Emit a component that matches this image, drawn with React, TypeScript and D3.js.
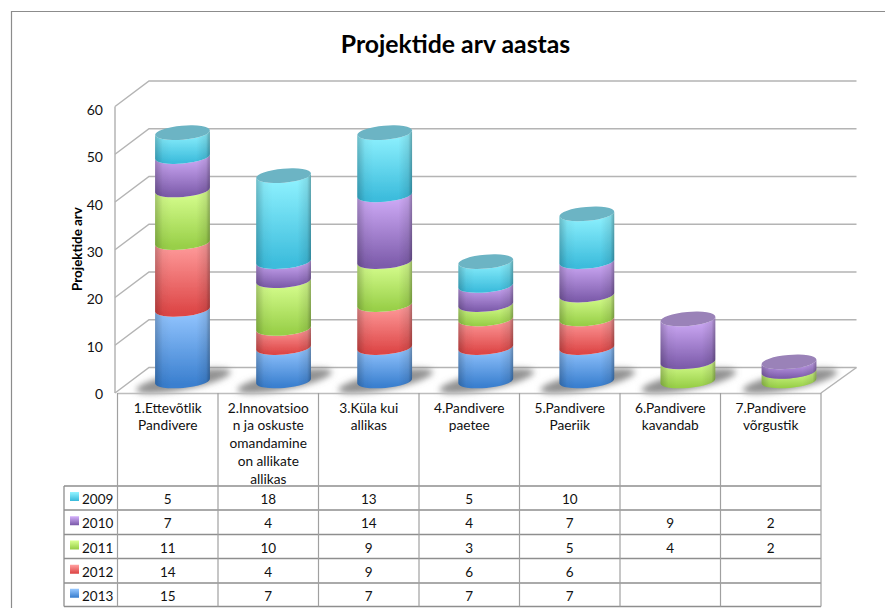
import React from "react";
import * as d3 from "d3";

const categories = [
  ["1.Ettevõtlik", "Pandivere"],
  ["2.Innovatsioo", "n ja oskuste", "omandamine", "on allikate", "allikas"],
  ["3.Küla kui", "allikas"],
  ["4.Pandivere", "paetee"],
  ["5.Pandivere", "Paeriik"],
  ["6.Pandivere", "kavandab"],
  ["7.Pandivere", "võrgustik"],
];
const v2009 = [5, 18, 13, 5, 10, null, null];
const v2010 = [7, 4, 14, 4, 7, 9, 2];
const v2011 = [11, 10, 9, 3, 5, 4, 2];
const v2012 = [14, 4, 9, 6, 6, null, null];
const v2013 = [15, 7, 7, 7, 7, null, null];
const yTicks = [0, 10, 20, 30, 40, 50, 60];

const seriesNames = ["2009", "2010", "2011", "2012", "2013"];
const seriesValues = [v2009, v2010, v2011, v2012, v2013];
const stackOrder = ["2013", "2012", "2011", "2010", "2009"];
const seriesLight = ["#8ff2ff", "#d0acf8", "#d8ff90", "#ff9c9c", "#94c6ff"];
const seriesDark = ["#3cbcdc", "#7d5cab", "#98cf48", "#dd4646", "#3a7fcf"];
const seriesCap = ["#6cb4c4", "#9a82b8", "#a9c77a", "#d08080", "#7da4d0"];

const FONT = "Lato, 'Open Sans', sans-serif";
const TEXT = "#111";

export default function App() {
  const left = 117.5, right = 821;
  const floorFront = 393, top = 106.5;
  const dx = 34, dy = 25.5;
  const idx = categories.map((_, i) => i);
  const x = d3.scaleBand<number>().domain(idx).range([left, right]);
  const barX = d3.scalePoint<number>().domain(idx).range([182.5, 789]);
  const y = d3.scaleLinear().domain([0, 60]).range([floorFront, top]);
  const yLabel = d3.scaleLinear().domain([0, 60]).range([399, 115]);
  const rowEdges = [393, 486, 510, 534.5, 558.5, 583, 606.5];
  const legendLeft = 64;
  const barOffsetY = -12;
  const rx = 27.5, ry = 7, rot = -5;
  const cosT = Math.cos((rot * Math.PI) / 180), sinT = Math.sin((rot * Math.PI) / 180);

  const rows = categories.map((_, i) => {
    const o: Record<string, number> = {};
    seriesNames.forEach((n, s) => (o[n] = seriesValues[s][i] ?? 0));
    return o;
  });
  const stacked = d3.stack().keys(stackOrder)(rows as any);

  const segPath = (cx: number, y0: number, y1: number) => {
    const ax = cx - rx * cosT, ady = -rx * sinT;
    const bx = cx + rx * cosT, bdy = rx * sinT;
    return `M${ax},${y0 + ady}L${ax},${y1 + ady}A${rx},${ry} ${rot} 0 0 ${bx},${y1 + bdy}L${bx},${y0 + bdy}A${rx},${ry} ${rot} 0 1 ${ax},${y0 + ady}Z`;
  };

  return (
    <svg width={885} height={608} style={{ position: "absolute", left: 0, top: 0, display: "block", background: "#fff" }} fontFamily={FONT}>
      <defs>
        {seriesNames.map((n, s) => (
          <linearGradient key={n} id={`g${n}`} x1="0" y1="0" x2="0" y2="1">
            <stop offset="0.05" stopColor={seriesLight[s]} />
            <stop offset="0.95" stopColor={seriesDark[s]} />
          </linearGradient>
        ))}
        <linearGradient id="edge" x1="0" y1="0" x2="1" y2="0">
          <stop offset="0" stopColor="#000" stopOpacity="0.22" />
          <stop offset="0.14" stopColor="#000" stopOpacity="0.04" />
          <stop offset="0.3" stopColor="#000" stopOpacity="0" />
          <stop offset="0.75" stopColor="#000" stopOpacity="0" />
          <stop offset="0.93" stopColor="#000" stopOpacity="0.1" />
          <stop offset="1" stopColor="#000" stopOpacity="0.32" />
        </linearGradient>
        <filter id="soft" x="-5%" y="-5%" width="110%" height="110%">
          <feGaussianBlur stdDeviation="0.45" />
        </filter>
        <filter id="shadow" x="-20%" y="-50%" width="140%" height="200%">
          <feGaussianBlur stdDeviation="3.2" />
        </filter>
      </defs>

      {/* outer frame */}
      <path d="M11.5,608V11.5H885" fill="none" stroke="#8c8c8c" strokeWidth={1.2} />

      <text x={455.5} y={53} textAnchor="middle" fontSize={24.8} fontWeight={700} fill="#000">Projektide arv aastas</text>

      {/* walls and gridlines */}
      <g filter="url(#soft)" fill="none" stroke="#b4b4b4" strokeWidth={1.5}>
        <line x1={115} x2={115} y1={y(60)} y2={y(0)} />
        {yTicks.map(t => (
          <path key={t} d={`M115,${y(t)}L${115 + dx},${y(t) - dy}H${right + dx + 1.5}`} />
        ))}
        <line x1={right} y1={floorFront} x2={right + dx + 1.5} y2={floorFront - dy} />
      </g>

      {yTicks.map(t => (
        <text key={t} x={103} y={yLabel(t)} textAnchor="end" fontSize={14} fill={TEXT}>{t}</text>
      ))}
      <text transform="translate(81.5,249) rotate(-90)" textAnchor="middle" fontSize={13.4} fontWeight={700} fill="#000">Projektide arv</text>

      {/* floor shadows */}
      <g filter="url(#shadow)">
        {idx.map(i => {
          const total = d3.sum(seriesValues, v => v[i] ?? 0);
          if (!total) return null;
          const cx = barX(i)! + 1;
          const cy = y(0) + barOffsetY;
          return <ellipse key={i} cx={cx} cy={cy} rx={48} ry={8.5} transform={`rotate(-11 ${cx} ${cy})`} fill="#777" opacity={0.8} />;
        })}
      </g>

      {/* cylinders */}
      <g filter="url(#soft)">
        {stacked.map(layer => (
          <g key={layer.key}>
            {layer.map((d, i) => {
              if (d[1] === d[0]) return null;
              const p = segPath(barX(i)!, y(d[0]) + barOffsetY, y(d[1]) + barOffsetY);
              return (
                <g key={i}>
                  <path d={p} fill={`url(#g${layer.key})`} />
                  <path d={p} fill="url(#edge)" />
                </g>
              );
            })}
          </g>
        ))}
        {idx.map(i => {
          const total = d3.sum(seriesValues, v => v[i] ?? 0);
          const s = seriesValues.findIndex(v => (v[i] ?? 0) > 0);
          const cx = barX(i)!;
          const cy = y(total) + barOffsetY;
          return <ellipse key={i} cx={cx} cy={cy} rx={rx} ry={ry} transform={`rotate(${rot} ${cx} ${cy})`} fill={seriesCap[s]} />;
        })}
      </g>

      {/* data table */}
      <g fill="none" stroke="#8e8e8e">
        <line x1={left} x2={right} y1={393.5} y2={393.5} stroke="#bdbdbd" strokeWidth={1.5} />
        {rowEdges.slice(1).map(r => (
          <line key={r} x1={legendLeft} x2={right} y1={r} y2={r} strokeWidth={1.3} />
        ))}
        {idx.map(i => (
          <line key={i} x1={x(i)!} x2={x(i)!} y1={393} y2={606.5} stroke="#a0a0a0" strokeWidth={1.2} />
        ))}
        <line x1={right} x2={right} y1={393} y2={606.5} stroke="#a0a0a0" strokeWidth={1.2} />
        <line x1={legendLeft} x2={legendLeft} y1={486} y2={606.5} strokeWidth={1.3} />
      </g>
      {categories.map((lines, i) => (
        <text key={i} textAnchor="middle" fontSize={13.7} fill={TEXT}>
          {lines.map((l, j) => (
            <tspan key={j} x={x(i)! + x.bandwidth() / 2} y={412.5 + j * 17.8}>{l}</tspan>
          ))}
        </text>
      ))}
      {seriesNames.map((n, s) => {
        const mid = (rowEdges[s + 1] + rowEdges[s + 2]) / 2;
        return (
          <g key={n}>
            <rect x={70} y={mid - 6} width={9} height={9} fill={`url(#g${n})`} />
            <text x={82} y={mid + 6} fontSize={13.5} fill={TEXT}>{n}</text>
            {seriesValues[s].map((v, i) => v == null ? null : (
              <text key={i} x={x(i)! + x.bandwidth() / 2} y={mid + 6} textAnchor="middle" fontSize={13.5} fill={TEXT}>{v}</text>
            ))}
          </g>
        );
      })}
    </svg>
  );
}
